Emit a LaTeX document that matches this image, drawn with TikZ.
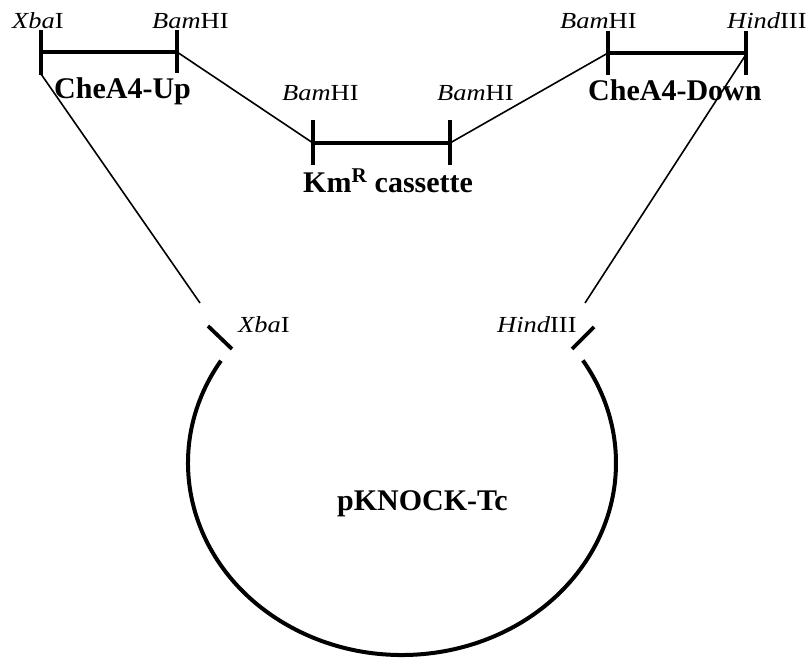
\documentclass[tikz,border=0pt]{standalone}
\usepackage{fontspec}
\setmainfont{Liberation Serif}
\newfontfamily\sitefont[FakeStretch=1.15]{Liberation Serif}
\begin{document}
\begin{tikzpicture}[x=1pt,y=-1pt,
  bar/.style={line width=3.8pt},
  tick/.style={line width=3.2pt},
  link/.style={line width=1.6pt},
  ring/.style={line width=4pt},
  site/.style={anchor=base west,inner sep=0pt,font=\sitefont\fontsize{23}{25}\selectfont},
  frag/.style={anchor=base west,inner sep=0pt,font=\fontsize{30}{32}\selectfont\bfseries}]
\useasboundingbox (0,0) rectangle (811,659);
% fragment ends
\coordinate (xa) at (41,52);
\coordinate (ba) at (177,52);
\coordinate (kb) at (313,143);
\coordinate (kc) at (450,143);
\coordinate (bd) at (608,53);
\coordinate (hd) at (746,53);
% plasmid gap ends
\coordinate (lx) at (200,303);
\coordinate (rx) at (585,303);
% CheA4-Up
\draw[bar] (xa) -- (ba);
\draw[tick] (41,30) -- (41,75);
\draw[tick] (177,30) -- (177,73);
% Km cassette
\draw[bar] (kb) -- (kc);
\draw[tick] (313,120) -- (313,165);
\draw[tick] (450,120) -- (450,165);
% CheA4-Down
\draw[bar] (bd) -- (hd);
\draw[tick] (608,31) -- (608,75);
\draw[tick] (746,31) -- (746,75);
% links
\draw[link] (ba) -- (kb);
\draw[link] (kc) -- (bd);
\draw[link] (41,74) -- (lx);
\draw[link] (745,56) -- (rx);
% plasmid
\draw[ring] (402,463) ++(147.8:214 and -192) arc[start angle=147.8,end angle=392.3,x radius=214,y radius=-192];
\draw[tick,line width=3.8pt] (208,326) -- (232,349);
\draw[tick,line width=3.8pt] (594,327) -- (572,349);
% labels
\node[site] (t1) at (12,28) {\textit{Xba}I};
\node[site] (t2) at (152,28) {\textit{Bam}HI};
\node[frag] (t3) at (54,98) {CheA4-Up};
\node[site] (t4) at (282,100) {\textit{Bam}HI};
\node[site] (t5) at (437,100) {\textit{Bam}HI};
\node[frag] (t6) at (303,192) {Km\textsuperscript{R} cassette};
\node[site] (t7) at (560,28) {\textit{Bam}HI};
\node[site] (t8) at (727,28) {\textit{Hind}III};
\node[frag] (t9) at (588,100) {CheA4-Down};
\node[site] (t10) at (238,332) {\textit{Xba}I};
\node[site] (t11) at (497,332) {\textit{Hind}III};
\node[frag] (t12) at (337,510) {pKNOCK-Tc};
\end{tikzpicture}
\end{document}
